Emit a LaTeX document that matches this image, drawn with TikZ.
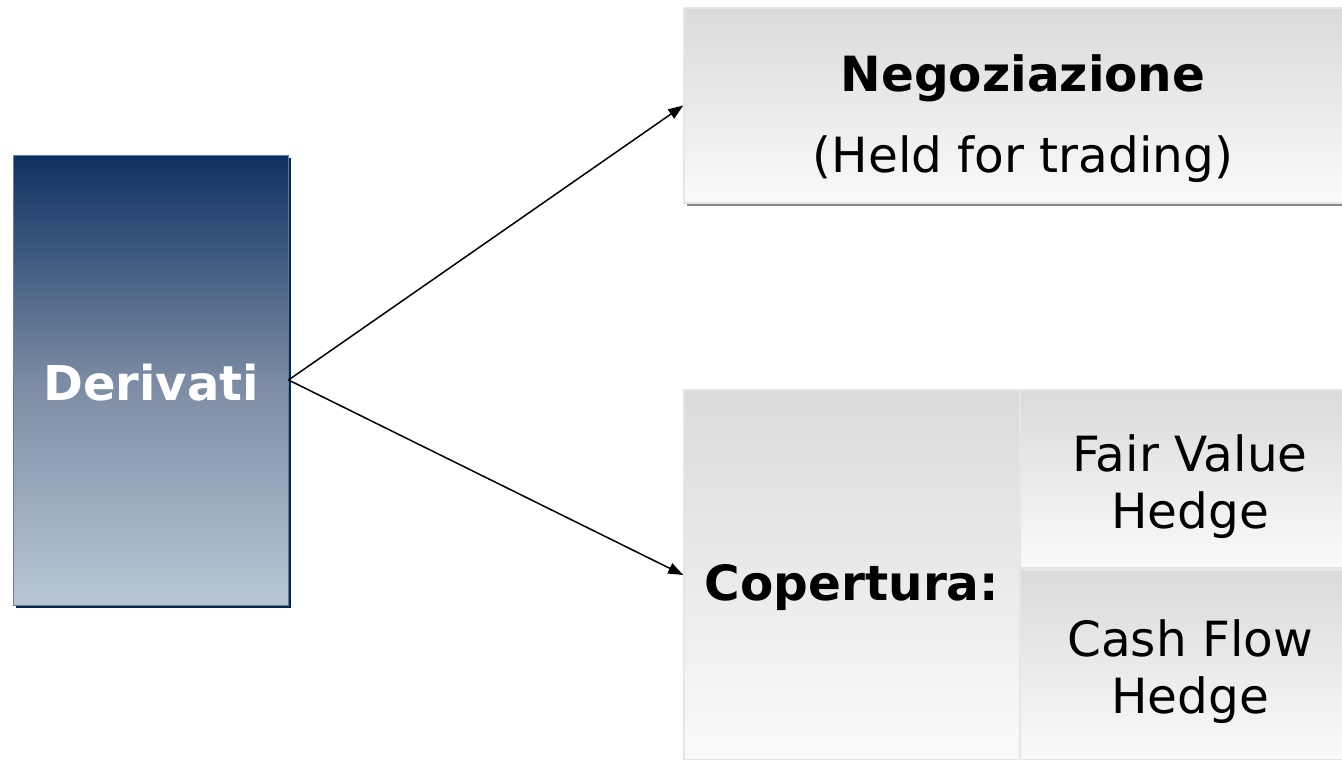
\documentclass[tikz,border=0pt]{standalone}
\usepackage{fontspec}
\setmainfont{DejaVu Sans}
\usetikzlibrary{arrows.meta,shadows}
\definecolor{navytop}{HTML}{0E3163}
\definecolor{navymid}{HTML}{7A8BA3}
\definecolor{navybot}{HTML}{B9C7D5}
\definecolor{navyedge}{HTML}{5F7EA3}
\definecolor{navyshadow}{HTML}{0A2548}
\definecolor{gtop}{HTML}{DADADA}
\definecolor{gbot}{HTML}{FAFAFA}
\definecolor{gedge}{HTML}{E6E6E6}
\definecolor{gshadow}{HTML}{888888}
\begin{document}
\begin{tikzpicture}[x=1pt,y=-1pt,
  derbox/.style={rectangle, inner sep=0pt, minimum width=275pt, minimum height=450pt,
    top color=navytop, bottom color=navybot, middle color=navymid,
    draw=navyedge, line width=1pt,
    drop shadow={shadow xshift=3pt, shadow yshift=-3pt, fill=navyshadow, opacity=1},
    text=white, font=\fontsize{48}{56}\selectfont\bfseries},
  graybox/.style={rectangle, inner sep=0pt, top color=gtop, bottom color=gbot,
    draw=gedge, line width=1.5pt},
  lbl/.style={align=center, inner sep=0pt, font=\fontsize{48.5}{57}\selectfont},
  arr/.style={-{Triangle[length=15pt,width=11pt]}, line width=1.5pt, black}
]
\clip (0,0) rectangle (1342,760);
\useasboundingbox (0,0) rectangle (1342,760);
\fill[white] (0,0) rectangle (1342,760);

\node[derbox] (der) at (150.5,380) {};
\node[text=white, inner sep=0pt, font=\fontsize{48}{56}\selectfont\bfseries] (dertext) at (151,383) {Derivati};

\node[graybox, minimum width=678pt, minimum height=195pt,
  drop shadow={shadow xshift=3pt, shadow yshift=-3pt, fill=gshadow, opacity=1}]
  (neg) at (1023,105.5) {};
\node[lbl, font=\fontsize{48.5}{81}\selectfont] (negtext) at (1023,119)
  {\textbf{Negoziazione}\\(Held for trading)};

\node[graybox, minimum width=336pt, minimum height=370pt] (cop) at (852,575) {};
\node[lbl] (coptext) at (852,588) {\textbf{Copertura:}};

\node[graybox, minimum width=342pt, minimum height=178pt] (fvh) at (1191,479) {};
\node[lbl] (fvhtext) at (1190,487) {Fair Value\\Hedge};

\node[graybox, minimum width=342pt, minimum height=190pt] (cfh) at (1191,665) {};
\node[lbl] (cfhtext) at (1190,672) {Cash Flow\\Hedge};

\draw[arr] (der.east) -- (neg.west);
\draw[arr] (der.east) -- (cop.west);
\end{tikzpicture}
\end{document}
